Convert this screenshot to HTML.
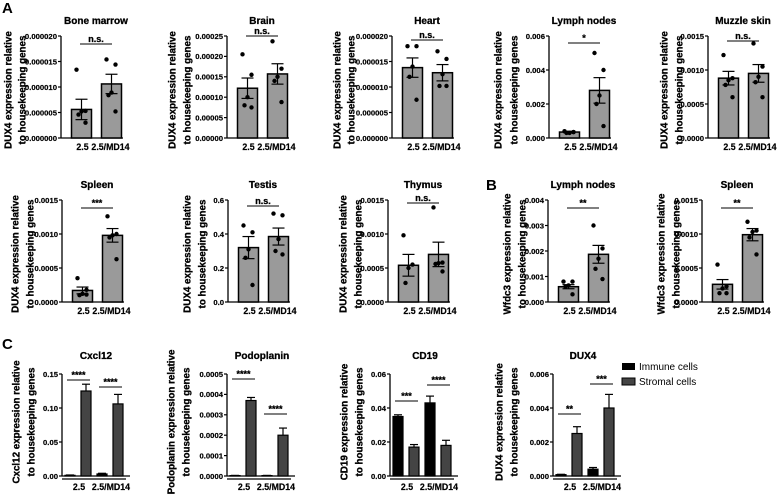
<!DOCTYPE html>
<html><head><meta charset="utf-8"><style>
html,body{margin:0;padding:0;background:#fff;}
svg{display:block;font-family:"Liberation Sans",Arial,sans-serif;}
</style></head><body>
<svg id="fig" width="778" height="498" viewBox="0 0 778 498" xmlns="http://www.w3.org/2000/svg">
<text x="2" y="13" font-size="15" font-weight="bold">A</text>
<text x="486" y="190" font-size="15" font-weight="bold">B</text>
<text x="2" y="349" font-size="15" font-weight="bold">C</text>
<rect x="622" y="363" width="13" height="7" fill="#000"/>
<text x="639" y="370" font-size="10">Immune cells</text>
<rect x="622" y="378" width="13" height="7" fill="#444" stroke="#000" stroke-width="1"/>
<text x="639" y="385" font-size="10">Stromal cells</text>
</svg>
<script>
// ---- data: dot-plot panels (A, B) ----
const groups = ["2.5", "2.5/MD14"];
const bmMeans = [0.0000056, 0.0000106];
const bmSem = [0.000002, 0.0000019];
const bmPts1 = [0.0000134, 0.0000053, 0.0000052, 0.0000046, 0.000003];
const bmPts2 = [0.0000154, 0.0000144, 0.0000089, 0.0000084, 0.0000052];
const bmTicks = ["0.000000","0.000005","0.000010","0.000015","0.000020"];
const brMeans = [0.000122, 0.000157];
const brSem = [0.000025, 0.000025];
const brPts1 = [0.000205, 0.000155, 0.0001, 0.00008, 0.000075];
const brPts2 = [0.000237, 0.00017, 0.00015, 0.00014, 0.000088];
const brTicks = ["0.00000","0.00005","0.00010","0.00015","0.00020","0.00025"];
const htMeans = [0.0000138, 0.0000128];
const htSem = [0.0000019, 0.0000016];
const htPts1 = [0.000018, 0.000018, 0.000014, 0.000012, 0.0000075];
const htPts2 = [0.000017, 0.0000155, 0.0000125, 0.0000102, 0.0000102];
const htTicks = ["0.000000","0.000005","0.000010","0.000015","0.000020"];
const lnMeans = [0.00035, 0.0028];
const lnSem = [0.00005, 0.00075];
const lnPts1 = [0.0004, 0.00035, 0.0003, 0.0003, 0.00035];
const lnPts2 = [0.005, 0.004, 0.0025, 0.002, 0.0007];
const lnTicks = ["0.000","0.002","0.004","0.006"];
const mzMeans = [0.00088, 0.00095];
const mzSem = [0.0001, 0.00013];
const mzPts1 = [0.00122, 0.00088, 0.00085, 0.00078, 0.0006];
const mzPts2 = [0.00139, 0.00105, 0.0009, 0.00082, 0.0006];
const mzTicks = ["0.0000","0.0005","0.0010","0.0015"];
const spMeans = [0.00017, 0.00098];
const spSem = [0.00005, 0.0001];
const spPts1 = [0.00035, 0.00018, 0.00012, 0.0001, 0.00011];
const spPts2 = [0.00126, 0.001, 0.00098, 0.00095, 0.00063];
const spTicks = ["0.0000","0.0005","0.0010","0.0015"];
const tsMeans = [0.32, 0.385];
const tsSem = [0.065, 0.05];
const tsPts1 = [0.45, 0.41, 0.31, 0.26, 0.1];
const tsPts2 = [0.52, 0.51, 0.37, 0.3, 0.28];
const tsTicks = ["0.0","0.2","0.4","0.6"];
const thMeans = [0.00054, 0.0007];
const thSem = [0.00016, 0.00018];
const thPts1 = [0.00098, 0.00055, 0.0005, 0.00028];
const thPts2 = [0.00139, 0.00058, 0.00057, 0.00056, 0.00045];
const thTicks = ["0.0000","0.0005","0.0010","0.0015"];
const wlMeans = [0.0006, 0.00187];
const wlSem = [0.00008, 0.00035];
const wlPts1 = [0.0008, 0.0008, 0.00065, 0.0006, 0.0003];
const wlPts2 = [0.003, 0.0021, 0.0017, 0.0013, 0.0009];
const wlTicks = ["0.000","0.001","0.002","0.003","0.004"];
const wsMeans = [0.00026, 0.00099];
const wsSem = [0.00007, 0.00009];
const wsPts1 = [0.00055, 0.00023, 0.0002, 0.00013, 0.00013];
const wsPts2 = [0.00118, 0.00105, 0.00103, 0.00095, 0.0007];
const wsTicks = ["0.0000","0.0005","0.0010","0.0015"];
// ---- data: grouped bar panels (C) ----
const cxImm = [0.001, 0.003];
const cxImmErr = [0.0005, 0.001];
const cxStr = [0.125, 0.106];
const cxStrErr = [0.01, 0.014];
const cxTicks = ["0.00","0.05","0.10","0.15"];
const pdImm = [0.000002, 0.000002];
const pdImmErr = [0.000001, 0.000001];
const pdStr = [0.00037, 0.0002];
const pdStrErr = [0.000015, 0.000035];
const pdTicks = ["0.0000","0.0001","0.0002","0.0003","0.0004","0.0005"];
const cdImm = [0.035, 0.043];
const cdImmErr = [0.001, 0.004];
const cdStr = [0.017, 0.018];
const cdStrErr = [0.0015, 0.003];
const cdTicks = ["0.00","0.02","0.04","0.06"];
const dxImm = [0.00008, 0.0004];
const dxImmErr = [0.00002, 0.0001];
const dxStr = [0.0025, 0.004];
const dxStrErr = [0.0004, 0.0008];
const dxTicks = ["0.000","0.002","0.004","0.006"];

const NS = "http://www.w3.org/2000/svg";
const svg = document.getElementById('fig');
function mk(tag, attrs, parent, txt) {
  const e = document.createElementNS(NS, tag);
  for (const k in attrs) e.setAttribute(k, attrs[k]);
  if (txt !== undefined) e.textContent = txt;
  (parent || svg).appendChild(e);
  return e;
}
const heavy = {'font-weight': 'bold', stroke: '#000', 'stroke-width': 0.3};
function axisY(top, bottom, ticks, ax, g) {
  const max = parseFloat(ticks[ticks.length - 1]);
  const y = v => bottom - (v / max) * (bottom - top);
  const axl = mk('line', {x1: ax, y1: top, x2: ax, y2: bottom, stroke: '#000', 'stroke-width': 1.3}, g);
  
  
  ticks.forEach(t => {
    const yy = y(parseFloat(t));
    mk('line', {x1: ax - 3, y1: yy, x2: ax, y2: yy, stroke: '#000', 'stroke-width': 1.2}, g);
    const tl = mk('text', Object.assign({x: ax - 4, y: yy + 2.8, 'text-anchor': 'end', 'font-size': 7.7}, heavy, {'stroke-width': 0.2}), g, t);
    
    
  });
  return y;
}
function yTitle(g, x1, x2, cy, l1, l2) {
  const a = mk('text', Object.assign({x: 0, y: 0, 'text-anchor': 'middle', 'font-size': 9.8, transform: `translate(${x1 + 3.6},${cy}) rotate(-90)`}, heavy), g, l1);
  
  
  const b = mk('text', Object.assign({x: 0, y: 0, 'text-anchor': 'middle', 'font-size': 9.8, transform: `translate(${x2 + 3.6},${cy}) rotate(-90)`}, heavy), g, l2);
  
  
}
function sig(g, x1, x2, yy, label) {
  const l = mk('line', {x1: x1, y1: yy, x2: x2, y2: yy, stroke: '#000', 'stroke-width': 1}, g);
  
  
  const t = mk('text', Object.assign({x: (x1 + x2) / 2, y: yy - 2, 'text-anchor': 'middle', 'font-size': 9}, heavy), g, label);
  
  
}
const jit = [-5, 4, 0, -3, 4];
function dotPanel(c) {
  const g = mk('g', {});
  
  
  const y = axisY(c.top, c.bottom, c.ticks, c.ax, g);
  mk('line', {x1: c.ax, y1: c.bottom, x2: c.ax + 62, y2: c.bottom, stroke: '#000', 'stroke-width': 1.3}, g);
  const title = mk('text', Object.assign({x: c.ax + 35, y: c.top - 12, 'text-anchor': 'middle', 'font-size': 10}, heavy), g, c.title);
  
  
  yTitle(g, c.yx1, c.yx2, (c.top + c.bottom) / 2 + 3, c.yl1, c.yl2);
  const centers = [c.ax + 20.5, c.ax + 50.5];
  [c.pts1, c.pts2].forEach((pts, i) => {
    const cx = centers[i];
    const b = mk('rect', {x: cx - 10, y: y(c.means[i]), width: 20, height: c.bottom - y(c.means[i]), fill: '#9a9a9a', stroke: '#000', 'stroke-width': 1.5}, g);
    
    
    const hi = y(c.means[i] + c.sem[i]), lo = y(Math.max(0, c.means[i] - c.sem[i]));
    const e = mk('line', {x1: cx, y1: hi, x2: cx, y2: lo, stroke: '#000', 'stroke-width': 1.2}, g);
    
    
    mk('line', {x1: cx - 6, y1: hi, x2: cx + 6, y2: hi, stroke: '#000', 'stroke-width': 1.2}, g);
    mk('line', {x1: cx - 6, y1: lo, x2: cx + 6, y2: lo, stroke: '#000', 'stroke-width': 1.2}, g);
    pts.forEach((v, j) => {
      const d = mk('circle', {cx: cx + jit[j % 5], cy: y(v), r: 2.2, fill: '#000'}, g);
      
      
    });
    const xl = mk('text', Object.assign({x: cx + (i ? -1 : 1), y: c.bottom + 12, 'text-anchor': 'middle', 'font-size': 8.8}, heavy, {'stroke-width': 0.2}), g, groups[i]);
    
    
  });
  sig(g, c.ax + 19, c.ax + 51, c.top + c.sy, c.sig);
}
const dx = 'DUX4 expression relative', hk = 'to housekeeping genes', wf = 'Wfdc3 expression relative';
dotPanel({name:'bone-marrow-chart', title:'Bone marrow', ax:61, top:36, bottom:138, ticks:bmTicks, means:bmMeans, sem:bmSem, pts1:bmPts1, pts2:bmPts2, yx1:8, yx2:22, yl1:dx, yl2:hk, sig:'n.s.', sy:8});
dotPanel({name:'brain-chart', title:'Brain', ax:227, top:36, bottom:138, ticks:brTicks, means:brMeans, sem:brSem, pts1:brPts1, pts2:brPts2, yx1:172, yx2:187, yl1:dx, yl2:hk, sig:'n.s.', sy:0});
dotPanel({name:'heart-chart', title:'Heart', ax:392, top:36, bottom:138, ticks:htTicks, means:htMeans, sem:htSem, pts1:htPts1, pts2:htPts2, yx1:337, yx2:351, yl1:dx, yl2:hk, sig:'n.s.', sy:4});
dotPanel({name:'lymph-nodes-chart', title:'Lymph nodes', ax:549, top:36, bottom:138, ticks:lnTicks, means:lnMeans, sem:lnSem, pts1:lnPts1, pts2:lnPts2, yx1:498, yx2:514, yl1:dx, yl2:hk, sig:'*', sy:7});
dotPanel({name:'muzzle-skin-chart', title:'Muzzle skin', ax:708, top:36, bottom:138, ticks:mzTicks, means:mzMeans, sem:mzSem, pts1:mzPts1, pts2:mzPts2, yx1:664, yx2:679, yl1:dx, yl2:hk, sig:'n.s.', sy:5});
dotPanel({name:'spleen-chart', title:'Spleen', ax:62, top:200, bottom:302, ticks:spTicks, means:spMeans, sem:spSem, pts1:spPts1, pts2:spPts2, yx1:15, yx2:30, yl1:dx, yl2:hk, sig:'***', sy:8});
dotPanel({name:'testis-chart', title:'Testis', ax:228, top:200, bottom:302, ticks:tsTicks, means:tsMeans, sem:tsSem, pts1:tsPts1, pts2:tsPts2, yx1:187, yx2:202, yl1:dx, yl2:hk, sig:'n.s.', sy:6});
dotPanel({name:'thymus-chart', title:'Thymus', ax:388, top:200, bottom:302, ticks:thTicks, means:thMeans, sem:thSem, pts1:thPts1, pts2:thPts2, yx1:343, yx2:358, yl1:dx, yl2:hk, sig:'n.s.', sy:3});
dotPanel({name:'wfdc3-lymph-nodes-chart', title:'Lymph nodes', ax:548, top:200, bottom:302, ticks:wlTicks, means:wlMeans, sem:wlSem, pts1:wlPts1, pts2:wlPts2, yx1:507, yx2:522, yl1:wf, yl2:hk, sig:'**', sy:8});
dotPanel({name:'wfdc3-spleen-chart', title:'Spleen', ax:702, top:200, bottom:302, ticks:wsTicks, means:wsMeans, sem:wsSem, pts1:wsPts1, pts2:wsPts2, yx1:661, yx2:676, yl1:wf, yl2:hk, sig:'**', sy:8});

function barPanel(c) {
  const g = mk('g', {});
  
  
  const top = 374, bottom = 476;
  const y = axisY(top, bottom, c.ticks, c.ax, g);
  mk('line', {x1: c.ax, y1: bottom, x2: c.ax + 68, y2: bottom, stroke: '#000', 'stroke-width': 1.3}, g);
  const title = mk('text', Object.assign({x: c.ax + c.tdx, y: 359, 'text-anchor': 'middle', 'font-size': 10}, heavy), g, c.title);
  
  
  yTitle(g, c.yx1, c.yx2, 422, c.yl1, c.yl2);
  const gc = [c.ax + 16, c.ax + 48];
  for (let i = 0; i < 2; i++) {
    const xi = gc[i] - 8, xs = gc[i] + 8;
    [[xi, c.imm[i], c.immErr[i], '#000', 'immune'], [xs, c.str[i], c.strErr[i], '#444', 'stromal']].forEach(s => {
      const b = mk('rect', {x: s[0] - 5, y: y(s[1]), width: 10, height: bottom - y(s[1]), fill: s[3], stroke: '#000', 'stroke-width': 1.2}, g);
      
      
      const hi = y(s[1] + s[2]);
      const e = mk('line', {x1: s[0], y1: hi, x2: s[0], y2: y(s[1]), stroke: '#000', 'stroke-width': 1.2}, g);
      
      
      mk('line', {x1: s[0] - 4, y1: hi, x2: s[0] + 4, y2: hi, stroke: '#000', 'stroke-width': 1.2}, g);
    });
    mk('line', {x1: xi - 8, y1: 479, x2: xs + 8, y2: 479, stroke: '#000', 'stroke-width': 1.2}, g);
    const xl = mk('text', Object.assign({x: gc[i] + 1, y: 490, 'text-anchor': 'middle', 'font-size': 8.8}, heavy, {'stroke-width': 0.2}), g, groups[i]);
    
    
    sig(g, xi - 3, xs + 4, c.sy[i], c.sig[i]);
  }
}
barPanel({name:'cxcl12-chart', title:'Cxcl12', ax:62, tdx:34, ticks:cxTicks, imm:cxImm, immErr:cxImmErr, str:cxStr, strErr:cxStrErr, yx1:16, yx2:31, yl1:'Cxcl12 expression relative', yl2:hk, sig:['****','****'], sy:[380,387]});
barPanel({name:'podoplanin-chart', title:'Podoplanin', ax:227, tdx:35, ticks:pdTicks, imm:pdImm, immErr:pdImmErr, str:pdStr, strErr:pdStrErr, yx1:171, yx2:186, yl1:'Podoplanin expression relative', yl2:hk, sig:['****','****'], sy:[379,414]});
barPanel({name:'cd19-chart', title:'CD19', ax:390, tdx:35, ticks:cdTicks, imm:cdImm, immErr:cdImmErr, str:cdStr, strErr:cdStrErr, yx1:344, yx2:359, yl1:'CD19 expression relative', yl2:hk, sig:['***','****'], sy:[401,385]});
barPanel({name:'dux4-stromal-chart', title:'DUX4', ax:553, tdx:30, ticks:dxTicks, imm:dxImm, immErr:dxImmErr, str:dxStr, strErr:dxStrErr, yx1:499, yx2:514, yl1:'DUX4 expression relative', yl2:hk, sig:['**','***'], sy:[414,384]});
</script>
</body></html>
